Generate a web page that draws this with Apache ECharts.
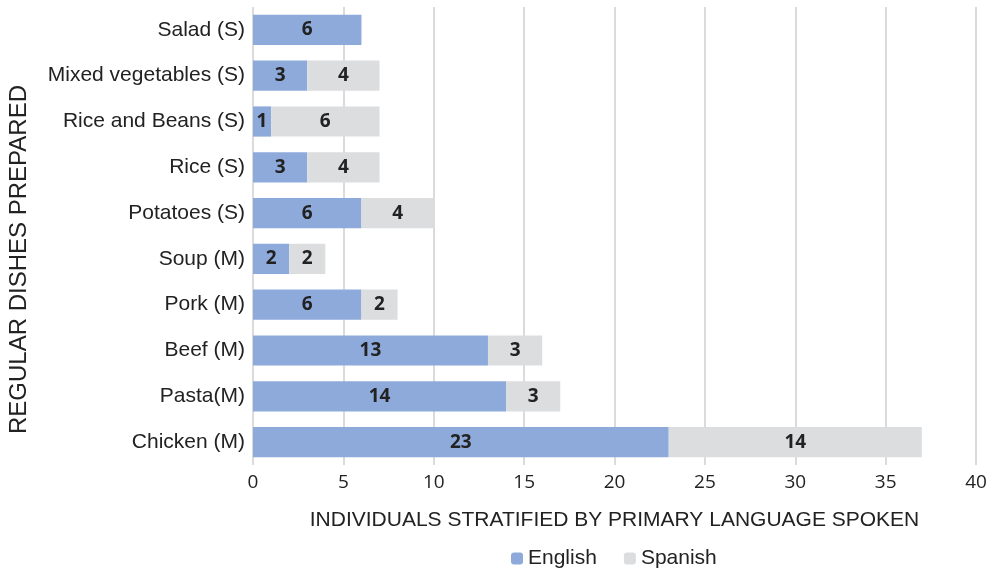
<!DOCTYPE html>
<html><head><meta charset="utf-8">
<script src="https://cdn.jsdelivr.net/npm/echarts@6/dist/echarts.min.js"></script>
<style>html,body{margin:0;padding:0;background:#fff}#c{width:991px;height:573px}</style>
</head><body><div id="c"></div>
<script>
const categories = ["Chicken (M)","Pasta(M)","Beef (M)","Pork (M)","Soup (M)","Potatoes (S)","Rice (S)","Rice and Beans (S)","Mixed vegetables (S)","Salad (S)"];
const english = [23,14,13,6,2,6,3,1,3,6];
const spanish = [14,3,3,2,2,4,4,6,4,null];
const xTicks = {min:0,max:40,interval:5};

const chart = echarts.init(document.getElementById('c'));
const lbl = {show:true,position:'inside',color:'#222',fontFamily:'Open Sans',fontWeight:'bold',fontSize:19};
chart.setOption({
  animation:false,
  grid:{left:253,right:15,top:7,bottom:108,containLabel:false},
  xAxis:{type:'value',min:xTicks.min,max:xTicks.max,interval:xTicks.interval,
    name:'INDIVIDUALS STRATIFIED BY PRIMARY LANGUAGE SPOKEN',nameLocation:'middle',nameGap:45,
    nameTextStyle:{fontFamily:'Liberation Sans',fontSize:21,color:'#222'},
    axisLine:{show:false},axisTick:{show:false},
    axisLabel:{fontFamily:'Open Sans',fontSize:19,color:'#222',margin:8},
    splitLine:{lineStyle:{color:'#cfcfcf',width:1.5}}},
  yAxis:{type:'category',data:categories,
    axisLine:{show:false},axisTick:{show:false},
    axisLabel:{fontFamily:'Liberation Sans',fontSize:21,color:'#222',margin:8}},
  legend:{top:543,left:506,itemWidth:12,itemHeight:12,itemGap:27,
    textStyle:{fontFamily:'Liberation Sans',fontSize:21,color:'#222'},
    data:['English','Spanish']},
  graphic:[{type:'text',left:7,top:85,rotation:Math.PI/2,
    style:{text:'REGULAR DISHES PREPARED',fontFamily:'Liberation Sans',fontSize:24,fill:'#222'}}],
  series:[
    {name:'English',type:'bar',stack:'a',data:english,barCategoryGap:'34%',
      itemStyle:{color:'#8eaadb'},label:lbl},
    {name:'Spanish',type:'bar',stack:'a',data:spanish,
      itemStyle:{color:'#dcdddf'},label:lbl}
  ]
});
</script></body></html>
